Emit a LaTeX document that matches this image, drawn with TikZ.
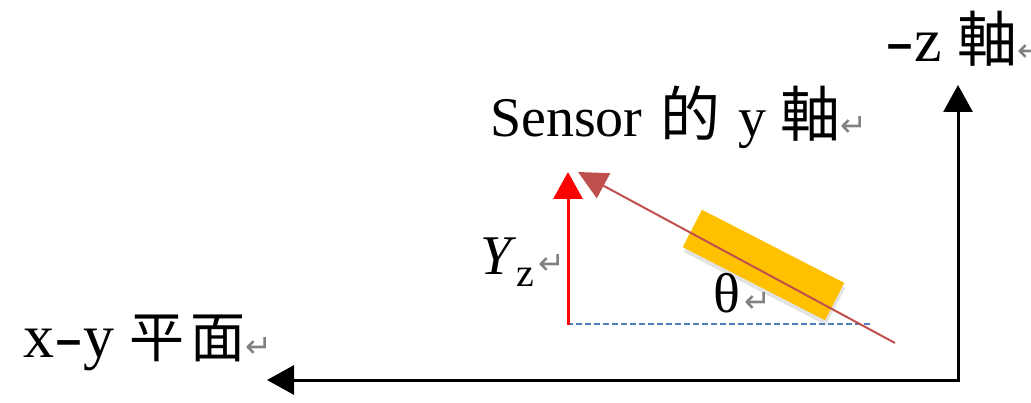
\documentclass[tikz,border=0pt]{standalone}
\usepackage{fontspec}
\setmainfont{Liberation Serif}
\newfontfamily\cjkfont{Noto Sans CJK TC}
\newfontfamily\symfont{DejaVu Sans}
\usetikzlibrary{arrows.meta,shadows}
\definecolor{sensorred}{HTML}{C0504D}
\definecolor{dashblue}{HTML}{4F81BD}
\definecolor{sensoryellow}{HTML}{FFC000}
\definecolor{markgray}{HTML}{808080}
\newcommand{\retmark}{{\symfont\fontsize{32}{32}\selectfont\textcolor{markgray}{↵}}}
\newcommand{\cjk}[1]{{\cjkfont\fontsize{60}{60}\selectfont #1}}
\newcommand{\cjksmall}[1]{{\cjkfont\fontsize{55}{55}\selectfont #1}}
\newcommand{\longhyph}{\scalebox{1.4}[1]{-}}
\tikzset{
  lbl/.style={inner sep=0pt, anchor=base west, font=\fontsize{56}{60}\selectfont},
  biglbl/.style={inner sep=0pt, anchor=base west, font=\fontsize{62}{66}\selectfont},
  axisline/.style={line width=3pt, -{Triangle[width=29pt,length=27pt]}},
  yzarrow/.style={line width=3pt, red, -{Triangle[width=29pt,length=27pt]}},
  sensorline/.style={line width=2pt, sensorred, -{Triangle[width=28pt,length=29pt]}},
  projline/.style={line width=2pt, dashblue, dash pattern=on 6pt off 3pt},
  sensorbox/.style={rectangle, fill=sensoryellow, draw=none, minimum width=160pt,
    minimum height=42pt, inner sep=0pt, rotate=-27.2,
    drop shadow={opacity=0.22, shadow xshift=1pt, shadow yshift=-5pt}},
}
\begin{document}
\begin{tikzpicture}[x=1pt,y=-1pt]
\useasboundingbox (0,0) rectangle (1031,403);
% axes
\coordinate (Ox) at (959.5,380);
\coordinate (Oz) at (958,381.5);
\coordinate (xend) at (267,380);
\coordinate (zend) at (958,85);
\draw[axisline] (Ox) -- (xend);
\draw[axisline] (Oz) -- (zend);
% projection and Yz
\coordinate (yzbase) at (568,325);
\coordinate (yztip) at (568,172);
\coordinate (dend) at (870,324);
\draw[projline] (567,324) -- (dend);
\draw[yzarrow] (yzbase) -- (yztip);
% sensor
\node[sensorbox] (sensor) at (763.5,265) {};
\coordinate (sstart) at (895,343);
\coordinate (stip) at (578,172);
\draw[sensorline] (sstart) -- (stip);
% labels
\node[biglbl] (zlab) at (885,62) {\longhyph z \cjk{軸}\retmark};
\node[lbl] (sensorlab) at (490,137) {Sensor\hspace{4pt} \cjk{的}\hspace{4pt} y \cjk{軸}\retmark};
\node[lbl] (yzlab) at (480,275) {\textit{Y}\raisebox{-12pt}{\fontsize{40}{40}\selectfont z}\hspace{4pt}\retmark};
\node[lbl] (thetalab) at (713,313) {θ\hspace{4pt}\retmark};
\node[biglbl] (xylab) at (23,357) {x\longhyph y \cjksmall{平\hspace{6pt}面}\retmark};
\end{tikzpicture}
\end{document}
